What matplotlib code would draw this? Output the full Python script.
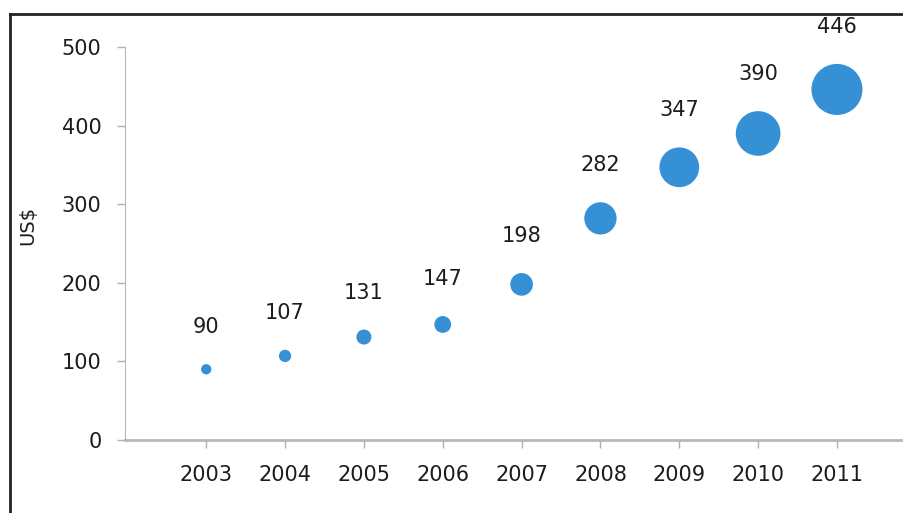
import numpy as np
import matplotlib.pyplot as plt
from matplotlib.lines import Line2D

years = [2003, 2004, 2005, 2006, 2007, 2008, 2009, 2010, 2011]
values = [90, 107, 131, 147, 198, 282, 347, 390, 446]

plt.rcParams['font.family'] = ['DejaVu Sans']

W, H = 904, 513
fig = plt.figure(figsize=(W / 100, H / 100), dpi=100)
ax = fig.add_axes([125 / W, 73 / H, (W - 125) / W, 393 / H])

# bubble width grows with the value (Excel "width" bubble sizing)
diam_px = np.array(values) * 0.1145
diam_pt = diam_px * 72 / 100
ax.scatter(years, values, s=diam_pt**2, color='#3590d5', edgecolors='none', zorder=3)

for yr, v, d in zip(years, values, diam_px):
    off = (d / 2 + 37) * 72 / 100
    ax.annotate(str(v), (yr, v), xytext=(0, off), textcoords='offset points',
                ha='center', va='center', fontsize=15, color='#1c1c1c',
                annotation_clip=False)

ax.set_xlim(2001.97, 2011.85)
ax.set_ylim(0, 500)
ax.set_xticks(years)
ax.set_yticks([0, 100, 200, 300, 400, 500])
ax.tick_params(axis='both', colors='#b0b0b0', labelcolor='#1c1c1c', labelsize=15,
               length=6, width=1)
ax.tick_params(axis='y', pad=11)
ax.tick_params(axis='x', pad=12)

for s in ['top', 'right']:
    ax.spines[s].set_visible(False)
ax.spines['left'].set_color('#b8b8b8')
ax.spines['bottom'].set_color('#b8b8b8')
ax.spines['bottom'].set_linewidth(2)

fig.text(28 / W, 1 - 225 / H, 'US$', rotation=90, ha='center', va='center',
         fontsize=14, color='#1c1c1c')

# frame around the picture
fig.add_artist(Line2D([10 / W, 1], [1 - 14 / H, 1 - 14 / H], color='#222222', lw=2))
fig.add_artist(Line2D([10 / W, 10 / W], [0, 1 - 14 / H], color='#222222', lw=2))

fig.savefig('out.png', dpi=100)
